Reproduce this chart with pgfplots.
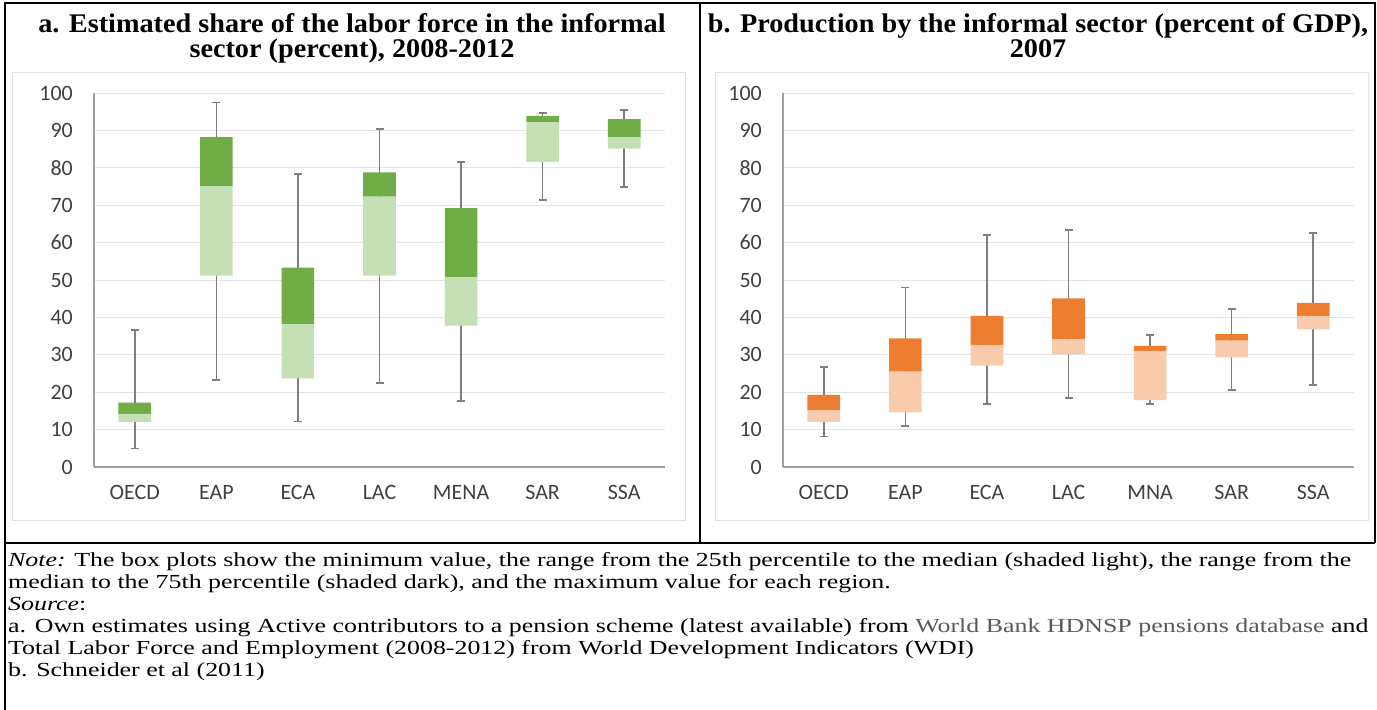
\documentclass[border=0pt]{standalone}
\usepackage{fontspec}
\setmainfont{Liberation Serif}
\newfontfamily\carlito{Carlito}
\newfontfamily\notefam[FakeStretch=1.3]{Liberation Serif}
\newfontfamily\titlefam[FakeStretch=1.05]{Liberation Serif}
\usepackage{pgfplots}
\usepackage{pgfplotstable}
\pgfplotsset{compat=1.18}

\definecolor{grnd}{HTML}{70AD47}
\definecolor{grnl}{HTML}{C5E0B4}
\definecolor{orgd}{HTML}{ED7D31}
\definecolor{orgl}{HTML}{F8CBAD}
\definecolor{whisk}{HTML}{7F7F7F}
\definecolor{gridc}{HTML}{E3E3E3}
\definecolor{axc}{HTML}{A0A0A0}
\definecolor{tickc}{HTML}{404040}
\definecolor{linkc}{HTML}{595959}
\definecolor{areac}{HTML}{E0E0E0}

% panel a: labor force in informal sector (percent)
\pgfplotstableread{
x min q1 med q3 max
0 5.0 12.1 14.2 17.2 36.6
1 23.3 51.2 75.1 88.2 97.5
2 12.2 23.7 38.2 53.3 78.3
3 22.5 51.2 72.3 78.8 90.4
4 17.7 37.8 50.8 69.2 81.6
5 71.4 81.6 92.2 93.9 94.6
6 74.9 85.1 88.2 93.0 95.5
}\labor

% panel b: informal production (percent of GDP)
\pgfplotstableread{
x min q1 med q3 max
0 8.1 12.1 15.2 19.3 26.8
1 11.0 14.6 25.5 34.4 48.0
2 16.8 27.1 32.6 40.4 62.0
3 18.4 30.2 34.1 45.1 63.4
4 16.8 17.9 31.0 32.4 35.3
5 20.6 29.3 33.8 35.5 42.2
6 21.9 36.8 40.4 43.9 62.6
}\gdp

\pgfplotsset{
  panelbase/.style={scale only axis, width=571bp, height=374bp,
    anchor=south west, xmin=-0.5, xmax=6.5, ymin=0, ymax=100},
  panelaxes/.style={panelbase,
    axis x line*=bottom, axis y line*=left,
    axis line style={draw=axc, line width=1.5bp},
    ymajorgrids, grid style={draw=gridc, line width=1bp},
    ytick={0,10,...,100}, xtick={0,...,6},
    major tick length=0pt, tick style={draw=none},
    /pgf/number format/assume math mode=true,
    ticklabel style={font=\carlito\fontsize{22}{26}\selectfont, text=tickc, inner sep=0pt},
    yticklabel style={xshift=-21bp},
    xticklabel style={yshift=-18bp}},
  panelbars/.style={panelbase, hide axis, ybar stacked, bar width=0.4},
  whiskers/.style={draw=none, mark=none,
    error bars/.cd, y dir=both, y explicit,
    error bar style={draw=whisk, line width=1.5bp},
    error mark=-,
    error mark options={draw=whisk, line width=1.5bp, mark size=4bp, rotate=90}},
}

\newcommand{\notefont}{\notefam\fontsize{20}{22}\selectfont}
\newcommand{\titlefont}{\titlefam\fontsize{27}{30}\selectfont\bfseries}

\begin{document}
\begin{tikzpicture}
\useasboundingbox (0,0) rectangle (1377bp,-710bp);

% chart areas
\draw[areac, line width=1bp] (12bp,-72bp) rectangle (685bp,-520bp);
\draw[areac, line width=1bp] (715bp,-72bp) rectangle (1368bp,-520bp);

% panel a
\begin{axis}[panelaxes, at={(94bp,-467bp)},
  xticklabels={OECD,EAP,ECA,LAC,MENA,SAR,SSA}]
\addplot[whiskers] table[x=x, y expr=(\thisrow{min}+\thisrow{max})/2,
  y error expr=(\thisrow{max}-\thisrow{min})/2]{\labor};
\end{axis}
\begin{axis}[panelbars, at={(94bp,-467bp)}]
\addplot[draw=none, fill=none] table[x=x, y=q1]{\labor};
\addplot[draw=none, fill=grnl] table[x=x, y expr=\thisrow{med}-\thisrow{q1}]{\labor};
\addplot[draw=none, fill=grnd] table[x=x, y expr=\thisrow{q3}-\thisrow{med}]{\labor};
\end{axis}

% panel b
\begin{axis}[panelaxes, at={(783bp,-467bp)},
  xticklabels={OECD,EAP,ECA,LAC,MNA,SAR,SSA}]
\addplot[whiskers] table[x=x, y expr=(\thisrow{min}+\thisrow{max})/2,
  y error expr=(\thisrow{max}-\thisrow{min})/2]{\gdp};
\end{axis}
\begin{axis}[panelbars, at={(783bp,-467bp)}]
\addplot[draw=none, fill=none] table[x=x, y=q1]{\gdp};
\addplot[draw=none, fill=orgl] table[x=x, y expr=\thisrow{med}-\thisrow{q1}]{\gdp};
\addplot[draw=none, fill=orgd] table[x=x, y expr=\thisrow{q3}-\thisrow{med}]{\gdp};
\end{axis}

% table frame
\draw[black, line width=2.5bp] (5bp,-710bp) -- (5bp,-3bp) -- (1375bp,-3bp) -- (1375bp,-543bp);
\draw[black, line width=2.5bp] (700bp,-3bp) -- (700bp,-543bp);
\draw[black, line width=2.5bp] (5bp,-543bp) -- (1375bp,-543bp);

% titles
\node[anchor=base, inner sep=0pt, font=\titlefont] at (352bp,-32bp) {a. Estimated share of the labor force in the informal};
\node[anchor=base, inner sep=0pt, font=\titlefont] at (352bp,-57bp) {sector (percent), 2008-2012};
\node[anchor=base, inner sep=0pt, font=\titlefont] at (1038bp,-32bp) {b. Production by the informal sector (percent of GDP),};
\node[anchor=base, inner sep=0pt, font=\titlefont] at (1038bp,-57bp) {2007};

% note
\begin{scope}[every node/.style={anchor=base west, inner sep=0pt, font=\notefont}]
\node at (8bp,-566bp) {\textit{Note:} The box plots show the minimum value, the range from the 25th percentile to the median (shaded light), the range from the};
\node at (8bp,-588bp) {median to the 75th percentile (shaded dark), and the maximum value for each region.};
\node at (8bp,-610bp) {\textit{Source}:};
\node at (8bp,-632bp) {a. Own estimates using Active contributors to a pension scheme (latest available) from {\color{linkc}World Bank HDNSP pensions database} and};
\node at (8bp,-654bp) {Total Labor Force and Employment (2008-2012) from World Development Indicators (WDI)};
\node at (8bp,-676bp) {b. Schneider et al (2011)};
\end{scope}
\end{tikzpicture}
\end{document}
